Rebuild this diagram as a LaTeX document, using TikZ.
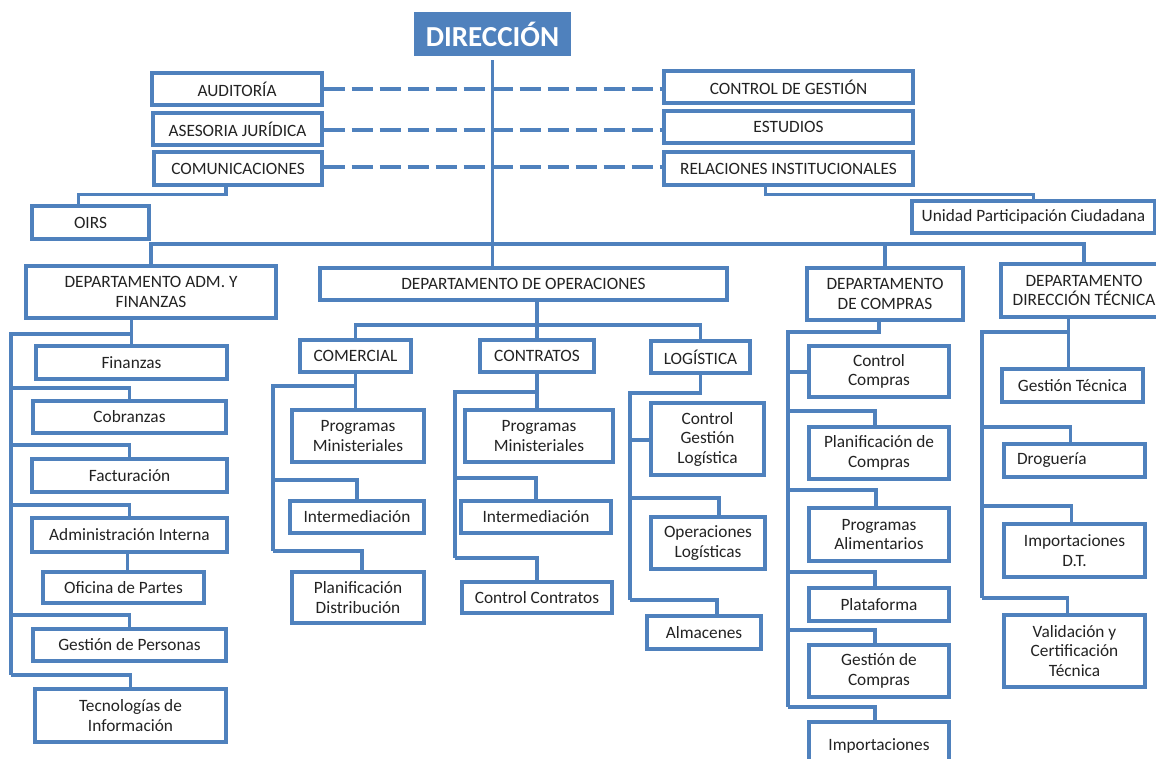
\documentclass[tikz,border=0pt]{standalone}
\usepackage{fontspec}
\setmainfont{Carlito}
\usetikzlibrary{shadows}
\definecolor{obl}{RGB}{79,129,189}
\definecolor{txt}{RGB}{35,35,35}
\tikzset{
  box/.style={draw=obl, line width=3.1pt, fill=white, align=center, inner sep=0pt,
    text=txt, font=\fontsize{17.3}{19.5}\selectfont,
    drop shadow={shadow xshift=1.2pt, shadow yshift=-1.5pt, opacity=0.22}},
  conn/.style={draw=obl, line width=3.1pt},
  dashline/.style={draw=obl, line width=3.1pt, dash pattern=on 21pt off 7pt},
  topbox/.style={draw=white, line width=4pt, fill=obl, text=white, inner sep=0pt,
    font=\fontsize{29}{33}\selectfont\bfseries,
    drop shadow={shadow xshift=1.2pt, shadow yshift=-1.5pt, opacity=0.3}},
}
\newcommand\bx[7][]{\node[box,minimum width={#5-#3},minimum height={#6-#4},#1] (#2) at ({(#3+#5)/2},{(#4+#6)/2}) {#7};}
\begin{document}
\begin{tikzpicture}[x=1pt,y=-1pt]
\useasboundingbox (0,0) rectangle (1156,759);
\clip (0,0) rectangle (1156,759);
% ---------- nodes ----------
\node[topbox,minimum width=161,minimum height=48] (dir) at (492.5,34.5) {DIRECCIÓN};
\bx{aud}{152}{73}{322}{105}{AUDITORÍA}
\bx{ase}{153}{113}{322}{145}{ASESORIA JURÍDICA}
\bx{com}{154}{152}{322}{185}{COMUNICACIONES}
\bx{oirs}{32}{206}{149}{239}{OIRS}
\bx{cg}{664}{71}{913}{103}{CONTROL DE GESTIÓN}
\bx{est}{664}{111}{913}{143}{ESTUDIOS}
\bx{rel}{664}{152}{913}{185}{RELACIONES INSTITUCIONALES}
\bx{upc}{912}{201}{1155}{233}{Unidad Participación Ciudadana}
% Adm y finanzas
\bx{adm}{26}{266}{276}{318}{DEPARTAMENTO ADM. Y\\FINANZAS}
\bx{fin}{36}{346}{227}{379}{Finanzas}
\bx{cob}{33}{401}{226}{433}{Cobranzas}
\bx{fac}{32}{459}{227}{492}{Facturación}
\bx{ai}{32}{518}{227}{552}{Administración Interna}
\bx{op}{43}{572}{204}{603}{Oficina de Partes}
\bx{gp}{33}{629}{226}{661}{Gestión de Personas}
\bx{ti}{35}{689}{226}{742}{Tecnologías de\\Información}
% Operaciones
\bx{ope}{320}{268}{727}{300}{DEPARTAMENTO DE OPERACIONES}
\bx{come}{300}{340}{411}{372}{COMERCIAL}
\bx{cont}{480}{340}{594}{372}{CONTRATOS}
\bx{log}{651}{341}{750}{373}{LOGÍSTICA}
\bx{pma}{292}{410}{424}{462}{Programas\\Ministeriales}
\bx{inta}{290}{501}{424}{533}{Intermediación}
\bx{pd}{292}{572}{424}{623}{Planificación\\Distribución}
\bx{pmb}{465}{410}{613}{462}{Programas\\Ministeriales}
\bx{intb}{461}{501}{611}{533}{Intermediación}
\bx{cc}{462}{582}{612}{613}{Control Contratos}
\bx{cgl}{651}{403}{764}{475}{Control\\Gestión\\Logística}
\bx{ol}{651}{517}{765}{569}{Operaciones\\Logísticas}
\bx{alm}{647}{616}{761}{649}{Almacenes}
% Compras
\bx{dc}{807}{268}{963}{320}{DEPARTAMENTO\\DE COMPRAS}
\bx{ccomp}{809}{346}{949}{397}{Control\\Compras}
\bx{plc}{809}{427}{949}{479}{Planificación de\\Compras}
\bx{pa}{809}{508}{949}{561}{Programas\\Alimentarios}
\bx{pla}{809}{588}{949}{621}{Plataforma}
\bx{gc}{809}{645}{949}{697}{Gestión de\\Compras}
\bx{imp}{809}{722}{949}{770}{Importaciones}
% Direccion tecnica
\bx{ddt}{1001}{264}{1167}{317}{DEPARTAMENTO\\DIRECCIÓN TÉCNICA}
\bx{gt}{1002}{369}{1143}{402}{Gestión Técnica}
\bx[text width=115pt,inner xsep=13pt,align=left]{dro}{1004}{444}{1145}{477}{Droguería}
\bx{idt}{1004}{524}{1145}{577}{Importaciones\\D.T.}
\bx{vct}{1004}{615}{1145}{687}{Validación y\\Certificación\\Técnica}
% ---------- junction coordinates ----------
\coordinate (bus) at (492,244);
\coordinate (a0) at (11,334);
\coordinate (a1) at (11,388);
\coordinate (a2) at (11,445);
\coordinate (a3) at (11,505);
\coordinate (a4) at (11,615);
\coordinate (a5) at (11,675);
\coordinate (ob) at (539,325);
\coordinate (c0) at (273,386);
\coordinate (c1) at (273,480);
\coordinate (c2) at (273,551);
\coordinate (t0) at (455,392);
\coordinate (t1) at (455,478);
\coordinate (t2) at (455,558);
\coordinate (l0) at (630,393);
\coordinate (l1) at (630,440);
\coordinate (l2) at (630,498);
\coordinate (l3) at (630,600);
\coordinate (p0) at (788,332);
\coordinate (pc) at (788,372);
\coordinate (p1) at (788,411);
\coordinate (p2) at (788,490);
\coordinate (p3) at (788,572);
\coordinate (p4) at (788,630);
\coordinate (p5) at (788,707);
\coordinate (d0) at (982,332);
\coordinate (d1) at (982,427);
\coordinate (d2) at (982,506);
\coordinate (d3) at (982,598);
% ---------- connectors ----------
\draw[dashline] (aud.east) -- (aud.east -| cg.west);
\draw[dashline] ([yshift=-1pt]ase.east) -- ([yshift=-1pt]ase.east -| est.west);
\draw[dashline] ([yshift=1.5pt]com.east) -- ([yshift=1.5pt]com.east -| rel.west);
\draw[conn] (dir.south) -- (dir.south |- ope.north);
\draw[conn] (adm.north) |- (bus) -| (ddt.north);
\draw[conn] (dc.north) -- (dc.north |- bus);
\draw[conn] ([xshift=-12pt]com.south) -- ++(0,8) -| ([xshift=-12pt]oirs.north);
\draw[conn] ([xshift=-23pt]rel.south) -- ++(0,8) -| (upc.north);
% adm
\draw[conn] (adm.south -| fin.north) -- (fin.north);
\draw[conn] (fin.north |- a0) -- (a0) -- (a5);
\draw[conn] (a1) -| (cob.north);
\draw[conn] (a2) -| (fac.north);
\draw[conn] (a3) -| (ai.north);
\draw[conn] ([xshift=-2pt]ai.south) -- ([xshift=-2pt]ai.south |- op.north);
\draw[conn] (a4) -| (gp.north);
\draw[conn] (a5) -| (ti.north);
% operaciones
\draw[conn] (ope.south -| cont.north) -- (cont.north);
\draw[conn] (come.north) |- (ob) -| (log.north);
\draw[conn] (come.south) -- (come.south |- pma.north);
\draw[conn] (come.south |- c0) -- (c0) -- (c2);
\draw[conn] (c1) -| (inta.north);
\draw[conn] (c2) -| ([xshift=4pt]pd.north);
\draw[conn] (cont.south) -- (cont.south |- pmb.north);
\draw[conn] (cont.south |- t0) -- (t0) -- (t2);
\draw[conn] (t1) -| (intb.north);
\draw[conn] (t2) -| (cc.north);
\draw[conn] (log.south) |- (l0) -- (l3);
\draw[conn] (l1) -- (l1 -| cgl.west);
\draw[conn] (l2) -| ([xshift=11pt]ol.north);
\draw[conn] (l3) -| ([xshift=13pt]alm.north);
% compras
\draw[conn] ([xshift=-6pt]dc.south) |- (p0) -- (p5);
\draw[conn] (pc) -- (pc -| ccomp.west);
\draw[conn] (p1) -| ([xshift=-4pt]plc.north);
\draw[conn] (p2) -| ([xshift=-3pt]pa.north);
\draw[conn] (p3) -| ([xshift=-4pt]pla.north);
\draw[conn] (p4) -| ([xshift=-4pt]gc.north);
\draw[conn] (p5) -| ([xshift=-4pt]imp.north);
% direccion tecnica
\draw[conn] ([xshift=-4pt]gt.north |- ddt.south) -- ([xshift=-4pt]gt.north);
\draw[conn] ([xshift=-4pt]gt.north |- d0) -- (d0) -- (d3);
\draw[conn] (d1) -| ([xshift=-4pt]dro.north);
\draw[conn] (d2) -| ([xshift=-3pt]idt.north);
\draw[conn] (d3) -| ([xshift=-7pt]vct.north);
\end{tikzpicture}
\end{document}
